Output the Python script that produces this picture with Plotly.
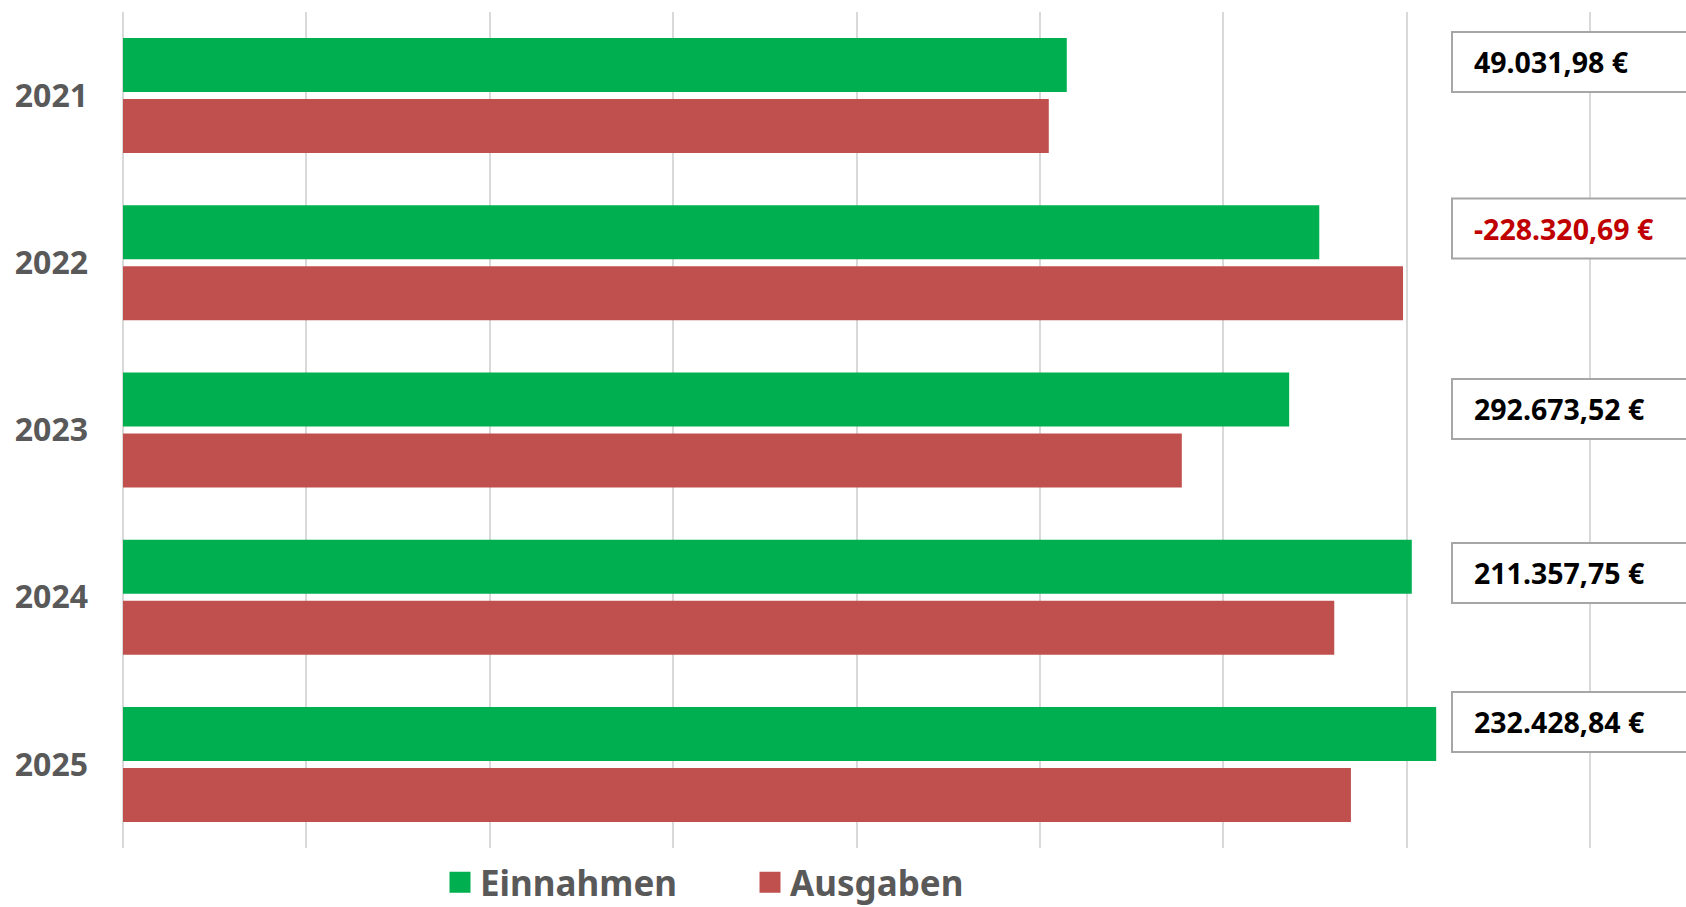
import plotly.graph_objects as go

years = ["2021", "2022", "2023", "2024", "2025"]
einnahmen = [2573000, 3261400, 3179300, 3513600, 3580100]
ausgaben = [2523968.02, 3489720.69, 2886626.48, 3302242.25, 3347671.16]
saldo_labels = ["49.031,98 €", "-228.320,69 €", "292.673,52 €", "211.357,75 €", "232.428,84 €"]

# label box vertical offsets relative to category centre (category units)
label_offsets = [-0.201, -0.205, -0.126, -0.145, -0.254]

GREEN = "#00B050"
RED = "#C0504D"
GREY_TXT = "#595959"

fig = go.Figure()
for name, vals, col in [("Einnahmen", einnahmen, GREEN), ("Ausgaben", ausgaben, RED)]:
    fig.add_trace(go.Bar(y=years, x=vals, name=name, orientation="h",
                         legendgroup=name, showlegend=False,
                         marker=dict(color=col, line=dict(width=0))))
    # legend entry with a larger square swatch
    fig.add_trace(go.Scatter(x=[None], y=[None], mode="markers", name=name,
                             legendgroup=name, showlegend=True, hoverinfo="skip",
                             marker=dict(symbol="square", size=16, color=col,
                                         line=dict(color=col, width=5))))

W, H = 1686, 907
ML, MR, MT, MB = 123, 0, 12, 59
plot_w = W - ML - MR
px_per_eur = 183.4 / 500000
x_max = plot_w / px_per_eur

box_x0 = (1452 - ML) / plot_w
box_x1 = 1.2
text_x = (1472 - ML) / plot_w
box_h = 60 / ((H - MT - MB) / 5)

for i, (lab, off) in enumerate(zip(saldo_labels, label_offsets)):
    diff = einnahmen[i] - ausgaben[i]
    yc = i + off
    fig.add_shape(type="rect", xref="paper", yref="y",
                  x0=box_x0, x1=box_x1, y0=yc - box_h / 2, y1=yc + box_h / 2,
                  line=dict(color="#A6A6A6", width=2), fillcolor="white", layer="above")
    fig.add_annotation(xref="paper", yref="y", x=text_x, y=yc, text=lab,
                       showarrow=False, xanchor="left", yanchor="middle",
                       font=dict(family="Noto Sans", size=28.5, weight="bold",
                                 color="#C00000" if diff < 0 else "#000000"))

fig.update_layout(
    width=W, height=H,
    margin=dict(l=ML, r=MR, t=MT, b=MB, autoexpand=False),
    plot_bgcolor="white", paper_bgcolor="white",
    barmode="group", bargap=0.27, bargroupgap=0.115,
    font=dict(family="Noto Sans", color=GREY_TXT),
    showlegend=True,
    legend=dict(orientation="h", x=(440 - ML) / plot_w, xanchor="left",
                y=-0.006, yanchor="top",
                font=dict(family="Noto Sans", size=35, weight="bold", color=GREY_TXT),
                entrywidth=265, entrywidthmode="pixels",
                bgcolor="rgba(0,0,0,0)"),
    xaxis=dict(range=[0, x_max], dtick=500000, tick0=0, showticklabels=False,
               showgrid=True, gridcolor="#D9D9D9", gridwidth=2,
               zeroline=True, zerolinecolor="#D9D9D9", zerolinewidth=2,
               showline=False, fixedrange=True),
    yaxis=dict(type="category", autorange="reversed", showgrid=False,
               showline=False, ticks="", ticklabelstandoff=34,
               tickfont=dict(family="Noto Sans", size=32, weight="bold", color=GREY_TXT)),
)

fig.write_html("out.html", config={"displayModeBar": False},
               post_script="document.body.style.margin='0';document.body.style.overflow='hidden';")
